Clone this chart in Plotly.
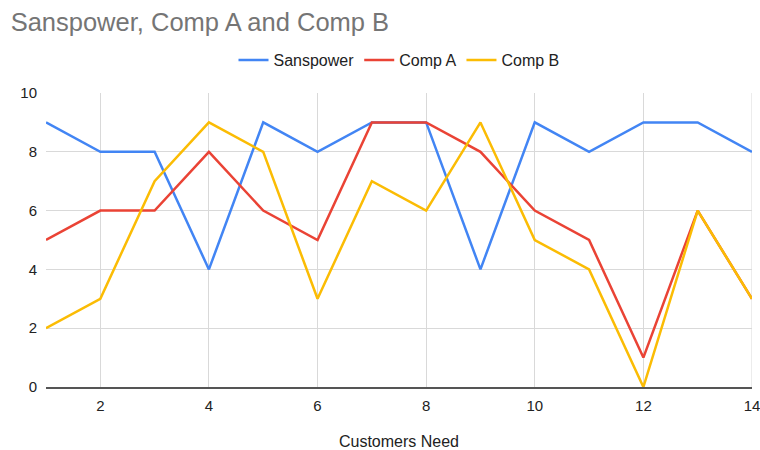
import plotly.graph_objects as go

x_vals = list(range(1, 15))
sanspower = [9, 8, 8, 4, 9, 8, 9, 9, 4, 9, 8, 9, 9, 8]
comp_a = [5, 6, 6, 8, 6, 5, 9, 9, 8, 6, 5, 1, 6, 3]
comp_b = [2, 3, 7, 9, 8, 3, 7, 6, 9, 5, 4, 0, 6, 3]

series = [
    ("Sanspower", sanspower, "#4285F4"),
    ("Comp A", comp_a, "#EA4335"),
    ("Comp B", comp_b, "#FBBC04"),
]

fig = go.Figure()
for name, vals, color in series:
    fig.add_trace(go.Scatter(x=x_vals, y=vals, mode="lines", name=name,
                             line=dict(color=color, width=2.5)))

fig.update_layout(
    width=760, height=450,
    margin=dict(l=46, r=8, t=93, b=63, autoexpand=False),
    paper_bgcolor="white", plot_bgcolor="white",
    font=dict(family="Liberation Sans, Arial, sans-serif", size=15, color="#222222"),
    title=dict(text="Sanspower, Comp A and Comp B", x=0.014, xanchor="left",
               y=0.952, yanchor="middle",
               font=dict(size=25.5, color="#757575")),
    legend=dict(orientation="h", x=0.5, xanchor="center", y=1.112, yanchor="middle",
                font=dict(size=16, color="#222222"), itemwidth=30),
    showlegend=True,
)
fig.update_xaxes(range=[1, 14], tick0=2, dtick=2, showgrid=True, gridcolor="#d9d9d9",
                 gridwidth=1, zeroline=False, showline=True, linecolor="#555555",
                 linewidth=1.5, ticks="", automargin=False, ticklabeloverflow="allow",
                 tickfont=dict(size=15, color="#222222"), ticklabelstandoff=4,
                 title=dict(text="Customers Need", font=dict(size=16, color="#222222"),
                            standoff=24))
fig.update_yaxes(range=[0, 10], dtick=2, showgrid=True, gridcolor="#d9d9d9",
                 gridwidth=1, zeroline=False, showline=False, ticks="", automargin=False,
                 ticklabeloverflow="allow",
                 tickfont=dict(size=15, color="#222222"), ticklabelstandoff=8)
# right border gridline at x=14
fig.add_shape(type="line", xref="x", yref="paper", x0=14, x1=14, y0=0, y1=1,
              line=dict(color="#d9d9d9", width=1), layer="below")

fig.write_html("out.html")
